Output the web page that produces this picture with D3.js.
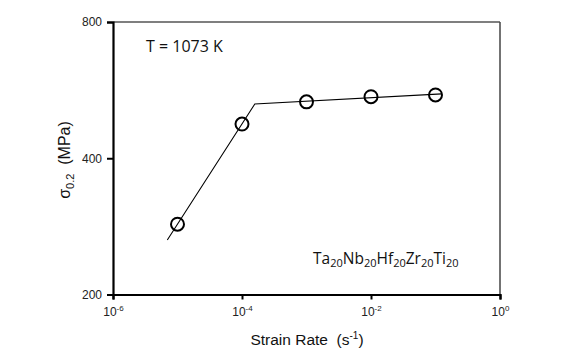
<!DOCTYPE html>
<html><head><meta charset="utf-8">
<script src="https://cdn.jsdelivr.net/npm/d3@7/dist/d3.min.js"></script>
<style>body{margin:0;background:#fff}svg{display:block}text{white-space:pre}</style>
</head><body>
<svg id="c" width="588" height="357"></svg>
<script>
const strainRates = [1e-5, 1e-4, 1e-3, 1e-2, 1e-1];
const yieldStress = [286, 476, 533, 547, 552];
const fitRates = [6.95e-6, 1.58e-4, 0.125];
const fitStress = [264, 527, 555];
const xTickExps = [-6, -4, -2, 0];
const yTicks = [200, 400, 800];
const tempLabel = "T = 1073 K";
const alloyParts = [["Ta","20"],["Nb","20"],["Hf","20"],["Zr","20"],["Ti","20"]];

const svg = d3.select("#c");
const m = {l:113, r:500, t:22, b:294.5};
const x = d3.scaleLog().domain([1e-6, 1]).range([m.l, m.r]);
const y = d3.scaleLog().domain([200, 800]).range([m.b, m.t]);

// frame top/right
svg.append("line").attr("x1", m.l).attr("x2", m.r).attr("y1", m.t).attr("y2", m.t)
  .attr("stroke", "#555").attr("stroke-width", 1.5);
svg.append("line").attr("x1", m.r).attr("x2", m.r).attr("y1", m.t).attr("y2", m.b)
  .attr("stroke", "#444").attr("stroke-width", 1.5);

const font = "Liberation Sans, Arial, sans-serif";
// bottom axis
const gx = svg.append("g").attr("transform", `translate(0,${m.b})`)
  .call(d3.axisBottom(x).tickValues(xTickExps.map(e => Math.pow(10, e))).tickSize(5).tickFormat(""));
gx.select(".domain").attr("stroke", "#000").attr("stroke-width", 2.2);
gx.selectAll(".tick line").attr("stroke", "#000").attr("stroke-width", 2);
gx.selectAll(".tick").each(function(d, i){
  const t = d3.select(this).append("text").attr("y", 21).attr("fill", "#222")
    .attr("font-family", font).attr("font-size", 12).attr("text-anchor", "middle");
  t.append("tspan").text("10");
  t.append("tspan").attr("dy", -5).attr("font-size", 8).text(String(xTickExps[i]));
});

// left axis
const gy = svg.append("g").attr("transform", `translate(${m.l},0)`)
  .call(d3.axisLeft(y).tickValues(yTicks).tickSize(6).tickFormat(d3.format("d")).tickPadding(5));
gy.select(".domain").attr("stroke", "#000").attr("stroke-width", 2.2);
gy.selectAll(".tick line").attr("stroke", "#000").attr("stroke-width", 2);
gy.selectAll(".tick text").attr("font-family", font).attr("font-size", 12).attr("fill", "#222");

// fit line
const line = d3.line().x(d => x(d[0])).y(d => y(d[1]));
svg.append("path").datum(fitRates.map((r, i) => [r, fitStress[i]]))
  .attr("d", line).attr("fill", "none").attr("stroke", "#000").attr("stroke-width", 1.1);

// points
svg.selectAll("circle.p").data(strainRates).enter().append("circle").attr("class", "p")
  .attr("cx", d => x(d)).attr("cy", (d, i) => y(yieldStress[i])).attr("r", 6.5)
  .attr("fill", "none").attr("stroke", "#000").attr("stroke-width", 2);

// axis titles
const xt = svg.append("text").attr("x", 307).attr("y", 345)
  .attr("text-anchor", "middle").attr("font-family", font).attr("font-size", 15.5).attr("fill", "#111");
xt.append("tspan").text("Strain Rate  (s");
xt.append("tspan").attr("dy", -6).attr("font-size", 10).text("-1");
xt.append("tspan").attr("dy", 6).text(")");

const yt = svg.append("text").attr("transform", `translate(70,160) rotate(-90)`)
  .attr("text-anchor", "middle").attr("font-family", font).attr("font-size", 16).attr("fill", "#111");
yt.append("tspan").text("σ");
yt.append("tspan").attr("dy", 4).attr("font-size", 11).text("0.2");
yt.append("tspan").attr("dy", -4).text("  (MPa)");

// annotations
svg.append("text").attr("x", 146).attr("y", 52).attr("font-family", "Open Sans, sans-serif")
  .attr("font-size", 16).attr("fill", "#111").text(tempLabel);

const at = svg.append("text").attr("x", 313).attr("y", 264).attr("font-family", "Open Sans, sans-serif")
  .attr("font-size", 15.5).attr("fill", "#111");
alloyParts.forEach((p, i) => {
  at.append("tspan").attr("dy", i === 0 ? 0 : -3).text(p[0]);
  at.append("tspan").attr("font-size", 11).attr("dy", 3).text(p[1]);
});
</script>
</body></html>
